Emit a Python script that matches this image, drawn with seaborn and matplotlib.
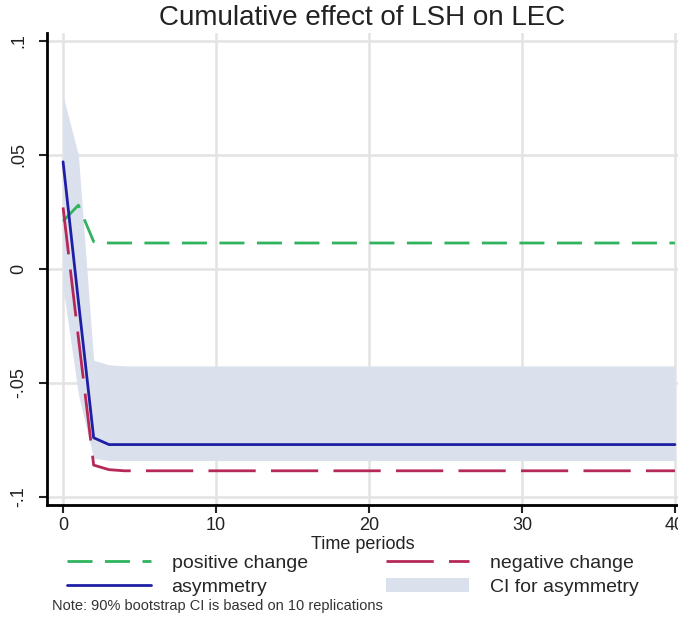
import numpy as np
import pandas as pd
import matplotlib
matplotlib.use("Agg")
import matplotlib.pyplot as plt
import seaborn as sns
from matplotlib.lines import Line2D
from matplotlib.patches import Patch

# ---- data ----
periods = list(range(0, 41))
positive_change = [0.021, 0.028, 0.012] + [0.0114] * 38
negative_change = [0.027, -0.030, -0.086, -0.088] + [-0.0885] * 37
asymmetry = [0.047, -0.014, -0.074, -0.077] + [-0.077] * 37
ci_upper = [0.076, 0.050, -0.040, -0.042] + [-0.0425] * 37
ci_lower = [-0.008, -0.055, -0.083, -0.084] + [-0.084] * 37

x_ticks = [0, 10, 20, 30, 40]
y_ticks = [-0.1, -0.05, 0, 0.05, 0.1]
y_tick_labels = ["-.1", "-.05", "0", ".05", ".1"]

title = "Cumulative effect of LSH on LEC"
x_label = "Time periods"
note = "Note: 90% bootstrap CI is based on 10 replications"

green = "#2fb35e"
red = "#b5285a"
blue = "#1f1fa6"
band = "#dae1ec"

df = pd.DataFrame({"t": periods, "pos": positive_change, "neg": negative_change,
                   "asym": asymmetry, "lo": ci_lower, "hi": ci_upper})

sns.set_theme(style="white")
plt.rcParams["font.family"] = ["Liberation Sans", "DejaVu Sans"]

fig = plt.figure(figsize=(6.78, 6.22), dpi=100)
ax = fig.add_axes([47 / 678, 1 - 505 / 622, 1 - 47 / 678, (505 - 33) / 622])

ax.fill_between(df["t"], df["lo"], df["hi"], color=band, linewidth=0, zorder=1)
lw = 2.0
sns.lineplot(data=df, x="t", y="pos", ax=ax, color=green, linewidth=lw, zorder=3)
ax.lines[-1].set_dashes((9, 4.5))
sns.lineplot(data=df, x="t", y="neg", ax=ax, color=red, linewidth=lw, zorder=3)
ax.lines[-1].set_dashes((17, 5.5))
sns.lineplot(data=df, x="t", y="asym", ax=ax, color=blue, linewidth=lw, zorder=4)

ax.set_xlim(-1.05, 40.2)
ax.set_ylim(-0.1035, 0.1035)
ax.set_xticks(x_ticks)
ax.set_yticks(y_ticks)
ax.set_yticklabels(y_tick_labels, rotation=90, va="center")
ax.tick_params(axis="both", labelsize=13, colors="#222222", length=6, width=1.5,
               direction="out", left=True, bottom=True)
ax.tick_params(axis="y", pad=8)
ax.tick_params(axis="x", pad=3)
ax.grid(True, color="#e3e3e3", linewidth=1.8, zorder=0)
ax.set_axisbelow(True)
for s in ["top", "right"]:
    ax.spines[s].set_visible(False)
for s in ["left", "bottom"]:
    ax.spines[s].set_color("black")
    ax.spines[s].set_linewidth(2)
ax.set_xlabel(x_label, fontsize=13, labelpad=1, color="#222222")
ax.set_ylabel("")
ax.set_title(title, fontsize=20, pad=6, color="#222222")

handles = [
    Line2D([], [], color=green, linewidth=lw, dashes=(9, 4.5)),
    Line2D([], [], color=blue, linewidth=lw),
    Line2D([], [], color=red, linewidth=lw, dashes=(17, 5.5)),
    Patch(facecolor=band, edgecolor="none"),
]
labels = ["positive change", "asymmetry", "negative change", "CI for asymmetry"]
fig.legend(handles, labels, loc="upper left", bbox_to_anchor=(67 / 678, 1 - 554 / 622),
           ncol=2, frameon=False, fontsize=14, handlelength=4.3, handletextpad=1.08,
           columnspacing=4.0, labelspacing=0.35, borderaxespad=0, borderpad=0)

fig.text(52 / 678, 1 - 606 / 622, note, fontsize=10.5, va="center", ha="left", color="#333333")

fig.savefig("out.png", dpi=100)
